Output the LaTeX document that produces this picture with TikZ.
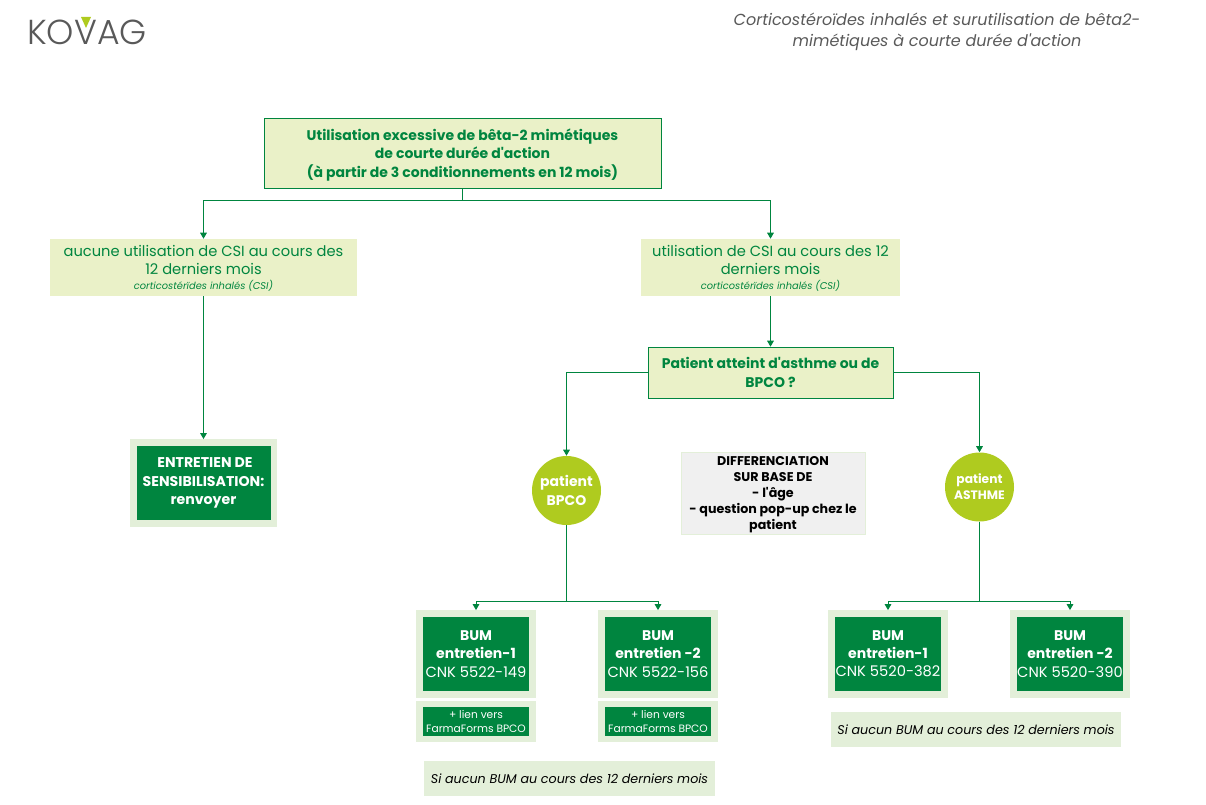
\documentclass[tikz,border=0pt]{standalone}
\usepackage{fontspec}
\setmainfont{Poppins}[Ligatures=TeXOff]
\newfontfamily\logofont{Poppins Light}
\usetikzlibrary{arrows.meta, positioning, calc}
\definecolor{kgreen}{HTML}{00853F}
\definecolor{klime}{HTML}{AFCB1F}
\definecolor{kpale}{HTML}{E3EFD9}
\definecolor{kyellow}{HTML}{EAF1C8}
\definecolor{kgrey}{HTML}{595959}
\newcommand{\fsz}[1]{\fontsize{#1}{\dimexpr #1pt*13/10\relax}\selectfont}
\tikzstyle{question} = [rectangle, draw=kgreen, fill=kyellow, text=kgreen, font=\bfseries, align=center, inner sep=0pt]
\tikzstyle{condition} = [rectangle, fill=kyellow, text=kgreen, align=center, inner sep=0pt, font=\fsz{11}\setlength{\baselineskip}{13.5pt}, text depth=0pt, minimum height=42.75pt]
\tikzstyle{action} = [rectangle, draw=kpale, line width=4.9pt, fill=kgreen, text=white, align=center, inner sep=0pt]
\tikzstyle{patient} = [circle, fill=klime, text=white, font=\bfseries, align=center, inner sep=0pt, minimum size=51.75pt]
\tikzstyle{remark} = [rectangle, fill=kpale, align=center, inner sep=0pt, font=\itshape\fsz{9.5}, minimum height=26.25pt]
\tikzstyle{arrow} = [draw=kgreen, line width=0.75pt, -{Triangle[length=4.5pt,width=5pt]}]
\tikzstyle{line} = [draw=kgreen, line width=0.75pt]

\begin{document}
\begin{tikzpicture}[x=0.75pt,y=-0.75pt]
    \useasboundingbox (0,0) rectangle (1206,805);

    \node[anchor=base west, inner sep=0pt, text=kgrey, font=\logofont\fsz{26}] (logo) at (27,45) {KOVAG};
    \fill[klime] (81,17) -- (91,17) -- (86,28) -- cycle;
    \node[text=kgrey, font=\itshape\fsz{12}, align=center, inner sep=0pt] (title) at (937,32)
        {Corticostéroïdes inhalés et surutilisation de bêta2-\\mimétiques à courte durée d'action};

    \node[question, minimum width=297.75pt, minimum height=52.5pt, font=\bfseries\fsz{10.5}, text depth=0pt] (excess) at (462.5,153)
        {Utilisation excessive de bêta-2 mimétiques\\de courte durée d'action\\(à partir de 3 conditionnements en 12 mois)};

    \node[condition, minimum width=230.25pt] (noCsi) at (203.5,267.5)
        {aucune utilisation de CSI au cours des\\12 derniers mois\\[-2.25pt]{\fsz{7.4}\itshape corticostérïdes inhalés (CSI)}};
    \node[condition, minimum width=194.25pt] (withCsi) at (770.5,267.5)
        {utilisation de CSI au cours des 12\\derniers mois\\[-2.25pt]{\fsz{7.4}\itshape corticostérïdes inhalés (CSI)}};

    \node[action, minimum width=105.4pt, minimum height=61pt, font=\bfseries\fsz{10.6}] (sensib) at (203.5,483)
        {~ENTRETIEN DE\\SENSIBILISATION:\\renvoyer};

    \node[question, minimum width=183.75pt, minimum height=38.25pt, font=\bfseries\fsz{10.5}] (askType) at (770.5,372.5)
        {Patient atteint d'asthme ou de\\BPCO ?};

    \node[patient, font=\bfseries\fsz{10.5}] (bpco) at (566.5,490.5) {patient\\BPCO};
    \node[patient, font=\bfseries\fsz{9.2}] (asthme) at (979.5,487) {patient\\ASTHME};

    \node[rectangle, draw=kpale, fill=black!6, align=center, inner sep=0pt, minimum width=138pt, minimum height=61.5pt, font=\bfseries\fsz{9.5}\setlength{\baselineskip}{12pt}, text depth=0pt] (diff) at (773,493)
        {DIFFERENCIATION\\SUR BASE DE\\- l'âge\\- question pop-up chez le\\patient};

    \foreach \name/\xc/\num/\cnk in {bumA/476/-1/5522-149, bumB/658/ -2/5522-156, bumC/888/-1/5520-382, bumD/1070/ -2/5520-390}{
        \node[action, minimum width=85pt, minimum height=61pt, font=\fsz{10.5}] (\name) at (\xc,654)
            {\textbf{BUM}\\\textbf{entretien\num}\\{\fsz{11}CNK \cnk}};
    }

    \node[action, minimum width=85pt, minimum height=26pt, font=\fsz{8}] (linkA) at (476,721.5) {+ lien vers\\FarmaForms BPCO};
    \node[action, minimum width=85pt, minimum height=26pt, font=\fsz{8}] (linkB) at (658,721.5) {+ lien vers\\FarmaForms BPCO};

    \node[remark, minimum width=218.25pt] (noteBpco) at (569.5,778.5) {Si aucun BUM au cours des 12 derniers mois};
    \node[remark, minimum width=217.5pt] (noteAsthme) at (976,729.5) {Si aucun BUM au cours des 12 derniers mois};

    \coordinate (splitTop) at (462.5,201);
    \coordinate (splitBpco) at (566.5,601);
    \coordinate (splitAsthme) at (979.5,601);

    \draw[line] (excess.south) -- (splitTop);
    \draw[arrow] (splitTop) -| (noCsi.north);
    \draw[arrow] (splitTop) -| (withCsi.north);
    \draw[arrow] (noCsi.south) -- (sensib.north);
    \draw[arrow] (withCsi.south) -- (askType.north);
    \draw[arrow] (askType.west) -| (bpco.north);
    \draw[arrow] (askType.east) -| (asthme.north);
    \draw[line] (bpco.south) -- (splitBpco);
    \draw[line] (asthme.south) -- (splitAsthme);
    \draw[arrow] (splitBpco) -| (bumA.north);
    \draw[arrow] (splitBpco) -| (bumB.north);
    \draw[arrow] (splitAsthme) -| (bumC.north);
    \draw[arrow] (splitAsthme) -| (bumD.north);
\end{tikzpicture}
\end{document}
